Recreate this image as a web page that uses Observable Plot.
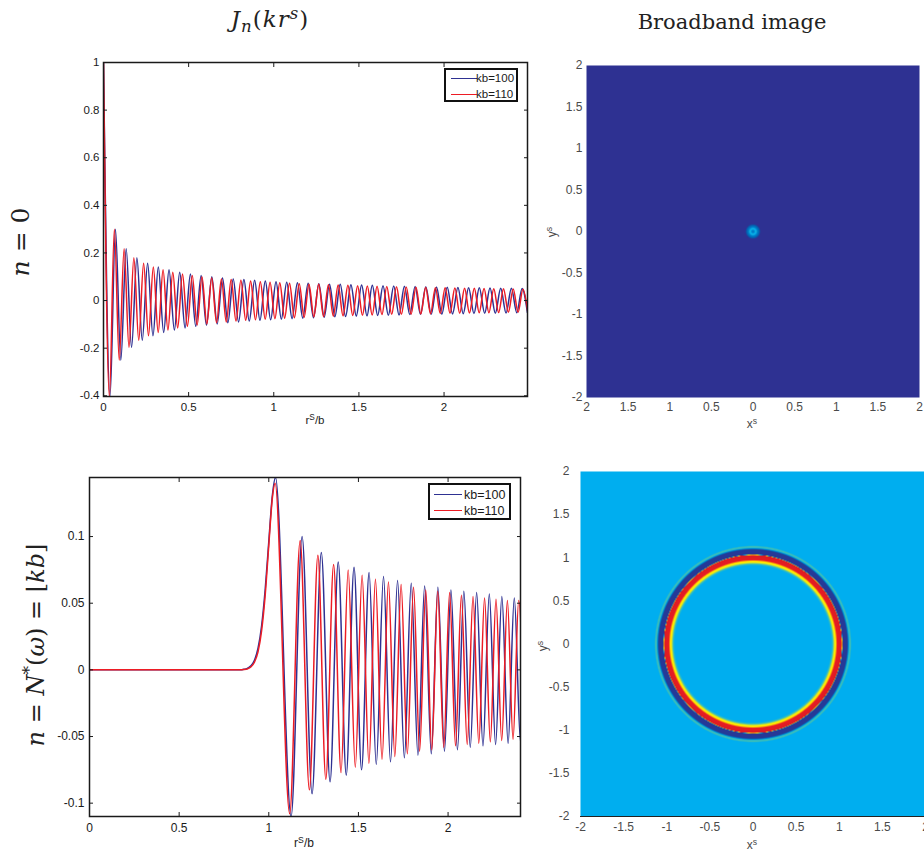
<!DOCTYPE html>
<html>
<head>
<meta charset="utf-8">
<script src="https://cdn.jsdelivr.net/npm/d3@7"></script>
<script src="https://cdn.jsdelivr.net/npm/@observablehq/plot@0.6"></script>
<style>
  html, body { margin: 0; padding: 0; background: #fff; }
  body { position: relative; width: 924px; height: 852px; overflow: hidden; font-family: "Liberation Sans", Arial, sans-serif; color: #1a1a1a; }
  .abs { position: absolute; white-space: nowrap; }
  .serif { font-family: "DejaVu Serif", "Liberation Serif", serif; color: #222; }
  .center { transform: translateX(-50%); }
  .rot { transform: translate(-50%, -50%) rotate(-90deg); transform-origin: 50% 50%; }
  sup.s { font-size: 0.72em; vertical-align: 0.5em; line-height: 0; }
  sub.s { font-size: 0.72em; vertical-align: -0.3em; line-height: 0; }
  .legend { position: absolute; border: 2px solid #111; background: #fff; box-sizing: border-box; }
  .legend .sw { position: absolute; height: 0; border-top: 1.5px solid; }
  .legend .lb { position: absolute; line-height: 1; transform: translateY(-50%); }
  svg { position: absolute; }
</style>
</head>
<body>
<script>
// Legend entries shared by both line panels
const seriesLabels = ["kb=100", "kb=110"];
const seriesColors = ["#2e3192", "#ed1c24"];

// Tick values
const rTicks = [0, 0.5, 1, 1.5, 2];
const j0Ticks = [-0.4, -0.2, 0, 0.2, 0.4, 0.6, 0.8, 1];
const jnTicks = [-0.1, -0.05, 0, 0.05, 0.1];
const imageTicks = [-2, -1.5, -1, -0.5, 0, 0.5, 1, 1.5, 2];

// J_0(kr): turning points [r/b, value] for kb = 100
const j0Kb100 = [[0,1],[0.0383,-0.403],[0.0702,0.300],[0.1017,-0.250],[0.1332,0.218],[0.1647,-0.197],[0.1962,0.180],[0.2276,-0.167],[0.2590,0.157],[0.2905,-0.148],[0.3219,0.141],[0.3533,-0.134],[0.3848,0.129],[0.4162,-0.124],[0.4476,0.119],[0.4790,-0.115],[0.5104,0.112],[0.5419,-0.108],[0.5733,0.105],[0.6047,-0.103],[0.6361,0.100],[0.6675,-0.098],[0.6990,0.095],[0.7304,-0.093],[0.7618,0.091],[0.7932,-0.090],[0.8246,0.088],[0.8560,-0.086],[0.8875,0.085],[0.9189,-0.083],[0.9503,0.082],[0.9817,-0.081],[1.0131,0.079],[1.0445,-0.078],[1.0760,0.077],[1.1074,-0.076],[1.1388,0.075],[1.1702,-0.074],[1.2016,0.073],[1.2331,-0.072],[1.2645,0.071],[1.2959,-0.070],[1.3273,0.069],[1.3587,-0.068],[1.3902,0.068],[1.4216,-0.067],[1.4530,0.066],[1.4844,-0.065],[1.5158,0.065],[1.5472,-0.064],[1.5787,0.064],[1.6101,-0.063],[1.6415,0.062],[1.6729,-0.062],[1.7043,0.061],[1.7357,-0.061],[1.7671,0.060],[1.7986,-0.059],[1.8300,0.059],[1.8614,-0.058],[1.8928,0.058],[1.9242,-0.058],[1.9556,0.057],[1.9871,-0.057],[2.0185,0.056],[2.0499,-0.056],[2.0813,0.055],[2.1127,-0.055],[2.1441,0.054],[2.1756,-0.054],[2.2070,0.054],[2.2384,-0.053],[2.2698,0.053],[2.3012,-0.053],[2.3326,0.052],[2.3640,-0.052],[2.3955,0.052],[2.4269,-0.051],[2.4583,0.051],[2.4897,-0.051]];

// J_0(kr): turning points [r/b, value] for kb = 110
const j0Kb110 = [[0,1],[0.0348,-0.403],[0.0638,0.300],[0.0925,-0.250],[0.1211,0.218],[0.1497,-0.197],[0.1783,0.180],[0.2069,-0.167],[0.2355,0.157],[0.2641,-0.148],[0.2926,0.141],[0.3212,-0.134],[0.3498,0.129],[0.3783,-0.124],[0.4069,0.119],[0.4355,-0.115],[0.4640,0.112],[0.4926,-0.108],[0.5212,0.105],[0.5497,-0.103],[0.5783,0.100],[0.6068,-0.098],[0.6354,0.095],[0.6640,-0.093],[0.6925,0.091],[0.7211,-0.090],[0.7497,0.088],[0.7782,-0.086],[0.8068,0.085],[0.8353,-0.083],[0.8639,0.082],[0.8925,-0.081],[0.9210,0.079],[0.9496,-0.078],[0.9781,0.077],[1.0067,-0.076],[1.0353,0.075],[1.0638,-0.074],[1.0924,0.073],[1.1210,-0.072],[1.1495,0.071],[1.1781,-0.070],[1.2066,0.069],[1.2352,-0.068],[1.2638,0.068],[1.2924,-0.067],[1.3209,0.066],[1.3495,-0.065],[1.3780,0.065],[1.4065,-0.064],[1.4352,0.064],[1.4637,-0.063],[1.4923,0.062],[1.5208,-0.062],[1.5494,0.061],[1.5779,-0.061],[1.6065,0.060],[1.6351,-0.059],[1.6636,0.059],[1.6922,-0.058],[1.7207,0.058],[1.7493,-0.058],[1.7778,0.057],[1.8065,-0.057],[1.8350,0.056],[1.8635,-0.056],[1.8921,0.055],[1.9206,-0.055],[1.9492,0.054],[1.9778,-0.054],[2.0064,0.054],[2.0349,-0.053],[2.0635,0.053],[2.0920,-0.053],[2.1205,0.052],[2.1491,-0.052],[2.1777,0.052],[2.2063,-0.051],[2.2348,0.051],[2.2634,-0.051],[2.2919,0.050],[2.3205,-0.050],[2.3491,0.050],[2.3776,-0.049],[2.4062,0.049],[2.4347,-0.049],[2.4633,0.048],[2.4918,-0.048]];

// J_n(kr) with n = kb = 100: flat region, rise, main lobe, then turning points
const jnKb100 = [[0,0],[0.84,0],[0.86,0.0004],[0.88,0.0011],[0.90,0.0030],[0.92,0.0072],[0.94,0.0163],[0.96,0.0331],[0.98,0.0604],[1.00,0.0963],[1.02,0.131],[1.0375,0.1443],[1.1245,-0.110],[1.1859,0.100],[1.2415,-0.093],[1.2930,0.088],[1.3418,-0.084],[1.3873,0.081],[1.4321,-0.079],[1.4755,0.077],[1.5175,-0.075],[1.5595,0.073],[1.5995,-0.071],[1.6400,0.070],[1.6789,-0.069],[1.7183,0.067],[1.7562,-0.066],[1.7946,0.065],[1.8320,-0.064],[1.8694,0.063],[1.9065,-0.063],[1.9432,0.062],[1.9799,-0.061],[2.0160,0.060],[2.0523,-0.060],[2.0880,0.059],[2.1238,-0.058],[2.1594,0.058],[2.1947,-0.057],[2.2300,0.057],[2.2650,-0.056],[2.3000,0.055],[2.3349,-0.055],[2.3694,0.054],[2.4041,-0.054],[2.4387,0.054]];

// J_n(kr) with n = kb = 110
const jnKb110 = [[0,0],[0.84,0],[0.86,0.0002],[0.88,0.0007],[0.90,0.0021],[0.92,0.0057],[0.94,0.0135],[0.96,0.0295],[0.98,0.0561],[1.00,0.0934],[1.02,0.129],[1.0352,0.140],[1.1166,-0.108],[1.1750,0.097],[1.2264,-0.090],[1.2739,0.086],[1.3182,-0.082],[1.3615,0.079],[1.4030,-0.077],[1.4428,0.075],[1.4826,-0.073],[1.5204,0.071],[1.5585,-0.070],[1.5949,0.068],[1.6317,-0.067],[1.6674,0.066],[1.7030,-0.065],[1.7381,0.064],[1.7728,-0.063],[1.8075,0.062],[1.8413,-0.061],[1.8755,0.060],[1.9090,-0.060],[1.9424,0.059],[1.9759,-0.058],[2.0086,0.058],[2.0416,-0.057],[2.0743,0.056],[2.1067,-0.056],[2.1392,0.055],[2.1714,-0.055],[2.2035,0.054],[2.2357,-0.054],[2.2673,0.053],[2.2992,-0.053],[2.3309,0.052],[2.3624,-0.052],[2.3939,0.052],[2.4253,-0.051]];

// Broadband images: radial intensity profiles (radius, colour level 0..1)
const spotRadius = [0, 0.015, 0.035, 0.05, 0.075, 0.09, 3];
const spotLevel = [0.2, 0.25, 0.42, 0.25, 0.15, 0, 0];
const ringRadius = [0, 0.91, 0.93, 0.945, 0.962, 0.975, 1.03, 1.04, 1.095, 1.11, 1.125, 1.14, 3];
const ringLevel = [0.375, 0.375, 0.45, 0.63, 0.64, 0.86, 0.88, 0.02, 0.03, 0.36, 0.46, 0.375, 0.375];

// Jet-like colour ramp
const rampStops = [0, 0.15, 0.375, 0.625, 0.85, 1];
const rampColors = ["#2e3192", "#0061b0", "#00aeef", "#fff200", "#ed1c24", "#9e1b1f"];

const plain = d => String(d);
const blank = () => "";

function place(node, left, top) {
  node.style.left = left + "px";
  node.style.top = top + "px";
  document.body.appendChild(node);
  return node;
}

function besselPanel({curves, xDomain, yDomain, yTicks, left, top, width, height, margin, fontSize, xPad, yPad}) {
  const svg = Plot.plot({
    width, height,
    marginTop: margin[0], marginRight: margin[1], marginBottom: margin[2], marginLeft: margin[3],
    x: {domain: xDomain},
    y: {domain: yDomain},
    style: {fontFamily: '"Liberation Sans", Arial, sans-serif', background: "transparent", overflow: "visible"},
    marks: [
      ...curves.map((c, i) => Plot.line(c, {
        x: d => d[0], y: d => d[1], stroke: seriesColors[i],
        strokeWidth: 1.5, curve: "monotone-x", clip: true
      })),
      Plot.frame({stroke: "#1a1a1a", strokeWidth: 1.5}),
      Plot.axisX(rTicks, {anchor: "bottom", tickSize: -4, tickPadding: xPad, tickFormat: plain, label: null, fontSize, color: "#1a1a1a"}),
      Plot.axisX(rTicks, {anchor: "top", tickSize: -4, tickFormat: blank, label: null, color: "#1a1a1a"}),
      Plot.axisY(yTicks, {anchor: "left", tickSize: -4, tickPadding: yPad, tickFormat: plain, label: null, fontSize, color: "#1a1a1a"}),
      Plot.axisY(yTicks, {anchor: "right", tickSize: -4, tickFormat: blank, label: null, color: "#1a1a1a"})
    ]
  });
  return place(svg, left, top);
}

function imagePanel({radius, level, xFormat, left, top, width, height, margin, xPad, yPad, baseLine}) {
  const profile = d3.scaleLinear(radius, level).clamp(true);
  const svg = Plot.plot({
    width, height,
    marginTop: margin[0], marginRight: margin[1], marginBottom: margin[2], marginLeft: margin[3],
    x: {domain: [-2, 2]},
    y: {domain: [-2, 2]},
    color: {type: "linear", domain: rampStops, range: rampColors, interpolate: "rgb"},
    style: {fontFamily: '"Liberation Sans", Arial, sans-serif', background: "transparent", overflow: "visible"},
    marks: [
      Plot.raster({x1: -2, y1: -2, x2: 2, y2: 2, pixelSize: 1, fill: (x, y) => profile(Math.hypot(x, y))}),
      baseLine ? Plot.ruleY([-2], {stroke: baseLine, strokeWidth: 1.2}) : null,
      Plot.axisX(imageTicks, {anchor: "bottom", tickSize: 0, tickPadding: xPad, tickFormat: xFormat, label: null, fontSize: 12, color: "#4a4a4a"}),
      Plot.axisY(imageTicks, {anchor: "left", tickSize: 0, tickPadding: yPad, tickFormat: plain, label: null, fontSize: 12, color: "#4a4a4a"})
    ]
  });
  return place(svg, left, top);
}

function legend({left, top, width, height, rows, lineX, lineW, textX, fontSize}) {
  const box = document.createElement("div");
  box.className = "legend";
  Object.assign(box.style, {width: width + "px", height: height + "px", fontSize: fontSize + "px"});
  seriesLabels.forEach((label, i) => {
    const sw = document.createElement("div");
    sw.className = "sw";
    Object.assign(sw.style, {left: lineX + "px", top: rows[i] + "px", width: lineW + "px", borderTopColor: seriesColors[i]});
    const lb = document.createElement("div");
    lb.className = "lb";
    Object.assign(lb.style, {left: textX + "px", top: (rows[i] + 1) + "px"});
    lb.textContent = label;
    box.append(sw, lb);
  });
  return place(box, left, top);
}

function text(html, cls, left, top, style = {}) {
  const el = document.createElement("div");
  el.className = "abs " + cls;
  el.innerHTML = html;
  Object.assign(el.style, style);
  return place(el, left, top);
}

// Line panels
besselPanel({curves: [j0Kb100, j0Kb110], xDomain: [0, 2.49], yDomain: [-0.403, 1], yTicks: j0Ticks,
  left: 0, top: 40, width: 540, height: 400, margin: [22, 13, 44, 103], fontSize: 11.5, xPad: 10, yPad: 8});
besselPanel({curves: [jnKb100, jnKb110], xDomain: [0, 2.404], yDomain: [-0.110, 0.1443], yTicks: jnTicks,
  left: 0, top: 440, width: 540, height: 412, margin: [37, 20, 36, 89], fontSize: 12, xPad: 11, yPad: 9});

// Broadband images
imagePanel({radius: spotRadius, level: spotLevel, xFormat: d => String(Math.abs(d)),
  left: 540, top: 40, width: 384, height: 400, margin: [25, 5, 43, 46], xPad: 5, yPad: 4});
imagePanel({radius: ringRadius, level: ringLevel, xFormat: plain, baseLine: "#222",
  left: 530, top: 440, width: 396, height: 412, margin: [31, 1, 36, 50], xPad: 6, yPad: 11});

// Legends
legend({left: 444, top: 68, width: 74, height: 34, rows: [8, 24], lineX: 5, lineW: 26, textX: 30, fontSize: 11.5});
legend({left: 428, top: 483, width: 83, height: 37, rows: [9, 25], lineX: 4, lineW: 28, textX: 34, fontSize: 12.5});

// Column titles
text('<i>J</i><sub class="s"><i>n</i></sub>(<i>kr</i><sup class="s"><i>s</i></sup>)', "serif center", 270, 8,
  {fontSize: "23px", lineHeight: "23px", letterSpacing: "1px"});
text("Broadband image", "serif center", 732, 12, {fontSize: "21px", lineHeight: "21px"});

// Row titles
text('<i>n</i> = 0', "serif rot", 20, 242, {fontSize: "25px", lineHeight: "25px"});
text('<i>n</i> = <i>N</i><sup class="s">*</sup>(<i>ω</i>) = ⌊<i>kb</i>⌋', "serif rot", 36, 645, {fontSize: "24px", lineHeight: "24px"});

// Axis titles
text('r<sup class="s">S</sup>/b', "center", 315, 414, {fontSize: "11.5px", lineHeight: "12px"});
text('r<sup class="s">S</sup>/b', "center", 304, 837, {fontSize: "12px", lineHeight: "12px"});
text('x<sup class="s">s</sup>', "center", 752, 418, {fontSize: "12px", lineHeight: "12px", color: "#4a4a4a"});
text('x<sup class="s">s</sup>', "center", 752, 839, {fontSize: "12px", lineHeight: "12px", color: "#4a4a4a"});
text('y<sup class="s">s</sup>', "rot", 552, 232, {fontSize: "12px", lineHeight: "12px", color: "#4a4a4a"});
text('y<sup class="s">s</sup>', "rot", 543, 646, {fontSize: "12px", lineHeight: "12px", color: "#4a4a4a"});
</script>
</body>
</html>
